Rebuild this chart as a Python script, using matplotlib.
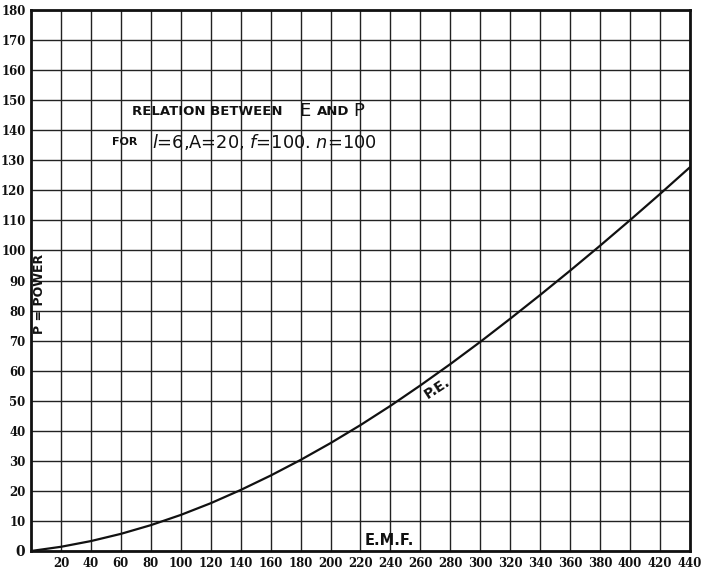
import matplotlib
matplotlib.use("Agg")
import matplotlib.pyplot as plt

# Data
emf = [0, 20, 40, 60, 80, 100, 120, 140, 160, 180, 200, 220, 240, 260, 280, 300,
       320, 340, 360, 380, 400, 420, 440]
power = [0, 1.4, 3.3, 5.7, 8.6, 12.0, 15.9, 20.3, 25.1, 30.3, 35.9, 41.9, 48.3, 55.1,
         62.2, 69.6, 77.3, 85.2, 93.3, 101.6, 110.1, 118.8, 127.7]

x_ticks = list(range(20, 441, 20))
x_tick_labels = [str(v) for v in x_ticks]
y_ticks = list(range(0, 181, 10))
y_tick_labels = [str(v) for v in y_ticks]

fig = plt.figure(figsize=(7.05, 5.72), dpi=100)
ax = fig.add_axes([31/705, 21/572, 659/705, 541/572])
ax.set_xlim(0, 440)
ax.set_ylim(0, 180)

ax.set_xticks(x_ticks)
ax.set_xticklabels(x_tick_labels)
ax.set_yticks(y_ticks)
ax.set_yticklabels(y_tick_labels)
ax.tick_params(length=0, pad=4)
for lab in ax.get_xticklabels() + ax.get_yticklabels():
    lab.set_fontfamily('DejaVu Serif')
    lab.set_fontweight('bold')
    lab.set_fontsize(8.5)
    lab.set_color('#111111')
ax.get_yticklabels()[0].set_fontsize(10)

ax.grid(True, color='#222222', linewidth=1.0)
ax.set_axisbelow(True)
for s in ax.spines.values():
    s.set_linewidth(2.0)
    s.set_color('#111111')

ax.plot(emf, power, color='#111111', linewidth=1.6, solid_capstyle='round',
        solid_joinstyle='round')

bold = dict(family='DejaVu Sans', fontweight='bold', color='#111111')
reg = dict(family='DejaVu Sans', color='#111111')

# Title, row 1
ax.text(67.4, 146.1, 'RELATION BETWEEN', fontsize=9.5, ha='left', va='center', **bold)
ax.text(183, 146.4, 'E', fontsize=13, ha='center', va='center', **reg)
ax.text(191, 146.1, 'AND', fontsize=9.5, ha='left', va='center', **bold)
ax.text(219, 146.4, 'P', fontsize=13, ha='center', va='center', **reg)

# Title, row 2
ax.text(54, 136.2, 'FOR', fontsize=8, ha='left', va='center', **bold)
ax.text(155.6, 136.2, r'$l$=6,A=20, $f$=100. $n$=100', fontsize=12.8,
        ha='center', va='center', **reg)

ax.text(6, 85.5, 'P = POWER', fontsize=9, rotation=90, ha='center', va='center', **bold)
ax.text(239.4, 3.4, 'E.M.F.', fontsize=10.5, ha='center', va='center', **bold)
ax.text(271, 54.3, 'P.E.', fontsize=10, rotation=33, ha='center', va='center', **bold)

fig.savefig('out.png', dpi=100, facecolor='white')
